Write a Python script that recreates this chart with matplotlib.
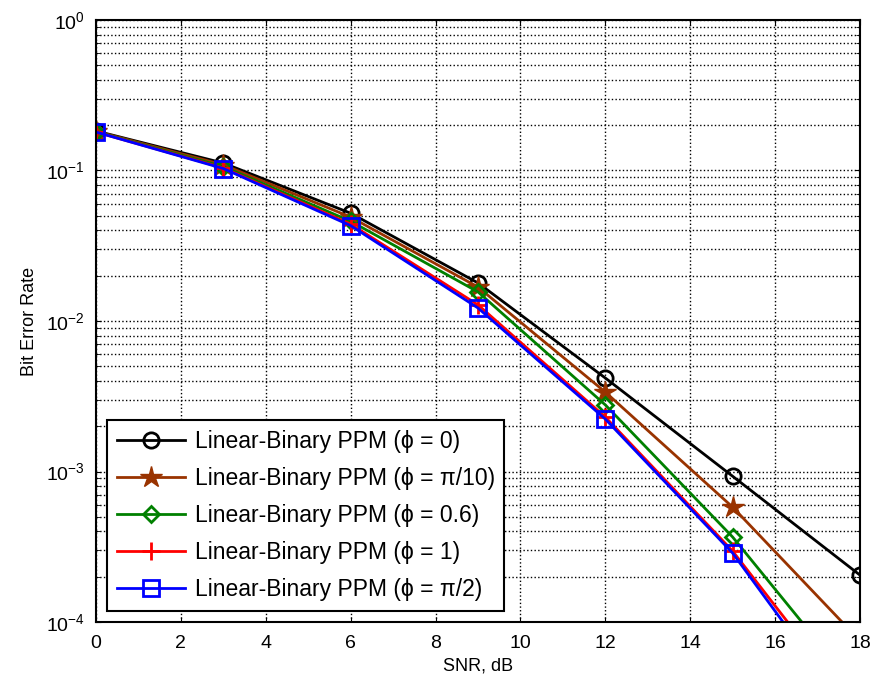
import numpy as np
import matplotlib.pyplot as plt
from matplotlib.ticker import LogLocator, NullFormatter, FuncFormatter

plt.rcParams['font.family'] = ['Liberation Sans', 'DejaVu Sans']
plt.rcParams['mathtext.fontset'] = 'custom'
plt.rcParams['mathtext.rm'] = 'Liberation Sans'
plt.rcParams['mathtext.default'] = 'regular'

snr = [0, 3, 6, 9, 12, 15, 18]

# BER
ber_phi0 = [0.183, 0.112, 0.052, 0.0179, 0.00418, 9.3e-4, 2.05e-4]
ber_pi10 = [0.182, 0.109, 0.049, 0.0168, 0.00337, 5.8e-4, 7.5e-5]
ber_06 = [0.181, 0.106, 0.046, 0.0156, 0.00277, 3.67e-4, 3.35e-5]
ber_1 = [0.180, 0.104, 0.044, 0.0128, 0.00230, 2.96e-4, 2.4e-5]
ber_pi2 = [0.180, 0.103, 0.043, 0.0122, 0.00223, 2.87e-4, 2.0e-5]

labels = ["Linear-Binary PPM (\u03d5 = 0)",
          "Linear-Binary PPM (\u03d5 = \u03c0/10)",
          "Linear-Binary PPM (\u03d5 = 0.6)",
          "Linear-Binary PPM (\u03d5 = 1)",
          "Linear-Binary PPM (\u03d5 = \u03c0/2)"]

fig = plt.figure(figsize=(8.76, 6.88), dpi=100)
ax = fig.add_axes([0.1096, 0.0959, 0.8721, 0.8751])

ax.semilogy(snr, ber_phi0, color='k', lw=2, marker='o', ms=11, mfc='none', mew=2, label=labels[0])
ax.semilogy(snr, ber_pi10, color=(0.6, 0.2, 0.0), lw=2, marker='*', ms=16, mfc=(0.6, 0.2, 0.0), mew=1, label=labels[1])
ax.semilogy(snr, ber_06, color=(0, 0.5, 0), lw=2, marker='D', ms=8, mfc='none', mew=2, label=labels[2])
ax.semilogy(snr, ber_1, color='r', lw=2, marker='+', ms=13, mew=2, label=labels[3])
ax.semilogy(snr, ber_pi2, color='b', lw=2, marker='s', ms=11, mfc='none', mew=2, label=labels[4])

ax.set_xlim(0, 18)
ax.set_ylim(1e-4, 1)
ax.set_xticks(range(0, 19, 2))
ax.yaxis.set_major_locator(LogLocator(base=10, numticks=10))
ax.yaxis.set_major_formatter(FuncFormatter(lambda v, p: '$10^{%d}$' % round(np.log10(v))))
ax.yaxis.set_minor_locator(LogLocator(base=10, subs=np.arange(2, 10), numticks=100))
ax.yaxis.set_minor_formatter(NullFormatter())

ax.grid(True, which='major', color='k', ls=':', lw=1)
ax.grid(True, which='minor', axis='y', color='k', ls=':', lw=1)
ax.tick_params(which='both', direction='in', top=True, right=True, labelsize=14)
ax.tick_params(which='minor', length=3)
ax.tick_params(axis='y', pad=8)
ax.tick_params(axis='x', pad=9)
for s in ax.spines.values():
    s.set_linewidth(1.5)

ax.set_xlabel("SNR, dB", fontsize=13, labelpad=4)
ax.set_ylabel("Bit Error Rate", fontsize=13, labelpad=6)

leg = ax.legend(loc='lower left', fontsize=16.5, handlelength=3.0, handletextpad=0.4,
                fancybox=False, framealpha=1, edgecolor='k', borderaxespad=0.5,
                labelspacing=0.62, borderpad=0.4)
leg.get_frame().set_linewidth(1.5)

fig.savefig("out.png", dpi=100)
